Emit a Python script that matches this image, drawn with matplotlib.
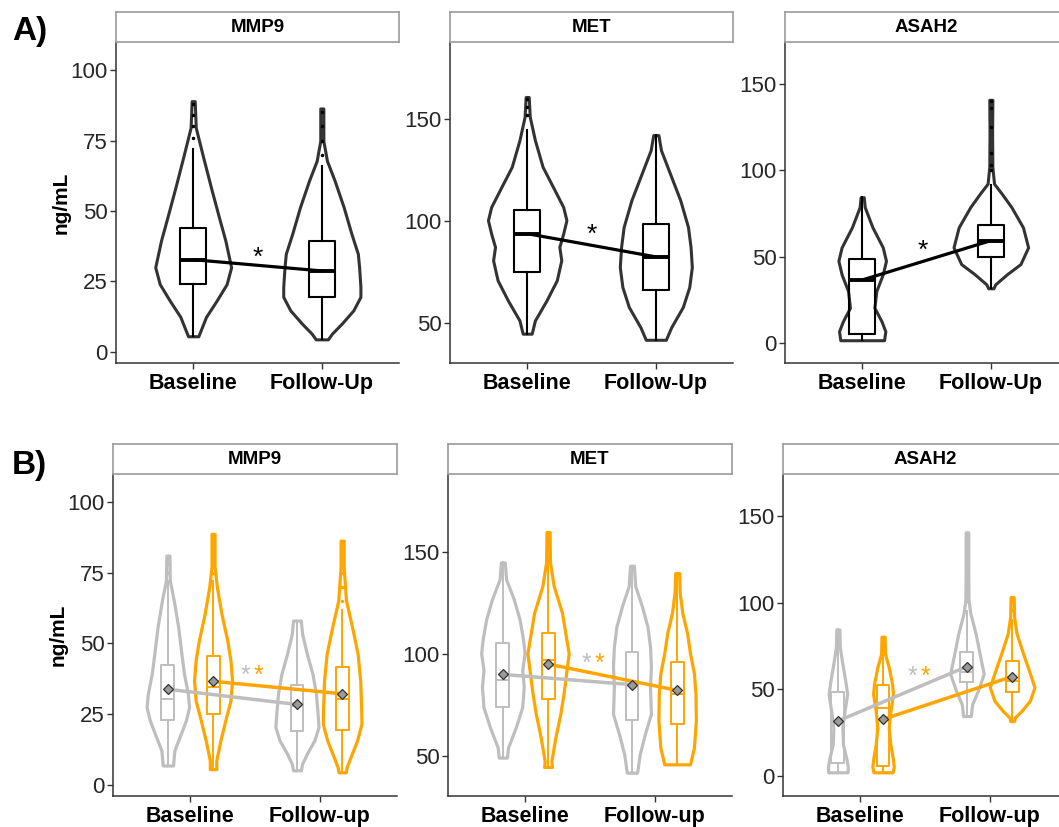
import numpy as np
import matplotlib
matplotlib.use("Agg")
import matplotlib.pyplot as plt

plt.rcParams['font.family'] = ['Liberation Sans', 'DejaVu Sans']

# ---- data ----
genes = ["MMP9", "MET", "ASAH2"]
top_xlabels = ["Baseline", "Follow-Up"]
bot_xlabels = ["Baseline", "Follow-up"]
ylims = [(-4, 110), (30.4, 188), (-11.6, 174.4)]
yticks = [[0, 25, 50, 75, 100], [50, 100, 150], [0, 50, 100, 150]]

# violin outlines: value levels and half widths (x units), panel A
a_mmp9_base_lv = [5.5, 12.4, 18, 24, 30, 39.5, 47.8, 58, 69, 79.6, 89]
a_mmp9_base_hw = [0.04, 0.10, 0.18, 0.26, 0.295, 0.25, 0.20, 0.14, 0.078, 0.02, 0.012]
a_mmp9_fol_lv = [4.4, 6.5, 10, 14.7, 19.5, 23, 30, 34.8, 41.9, 51.3, 60.7, 67.8, 74.9, 86.4]
a_mmp9_fol_hw = [0.047, 0.08, 0.155, 0.245, 0.30, 0.30, 0.29, 0.28, 0.23, 0.17, 0.10, 0.04, 0.012, 0.012]
a_met_base_lv = [44.8, 51.3, 61.1, 71, 80.8, 87.4, 93.9, 100.5, 107, 116.9, 126.7, 139.8, 151.3, 161]
a_met_base_hw = [0.035, 0.06, 0.15, 0.23, 0.265, 0.25, 0.28, 0.305, 0.28, 0.20, 0.12, 0.06, 0.02, 0.012]
a_met_fol_lv = [41.8, 48, 57.9, 67.7, 77.5, 87.4, 97.2, 110.3, 123.4, 134.9, 142.3]
a_met_fol_hw = [0.078, 0.12, 0.21, 0.26, 0.28, 0.27, 0.25, 0.19, 0.11, 0.04, 0.02]
a_asah2_base_lv = [1.6, 6.8, 12.6, 20.4, 30.1, 39.8, 47.6, 55.4, 67, 78.7, 84.5]
a_asah2_base_hw = [0.17, 0.18, 0.15, 0.095, 0.11, 0.16, 0.185, 0.16, 0.08, 0.02, 0.012]
a_asah2_fol_lv = [31.7, 34, 39.8, 45.7, 55.4, 67, 78.7, 86.5, 92.3, 102, 121.4, 140.9]
a_asah2_fol_hw = [0.02, 0.035, 0.125, 0.23, 0.29, 0.25, 0.16, 0.085, 0.025, 0.012, 0.01, 0.012]

# box stats panel A: q1, median, q3, whisker low, whisker high
a_mmp9_box = [(24.1, 32.7, 43.9, 5.5, 72.0), (19.5, 28.7, 39.5, 4.4, 66.0)]
a_met_box = [(75.1, 93.9, 105.7, 44.8, 144.8), (66.4, 82.5, 98.5, 41.8, 142.3)]
a_asah2_box = [(5.4, 36.5, 48.6, 1.6, 84.5), (49.7, 59.3, 68.4, 31.7, 91.3)]
a_mmp9_fliers = [[76, 80, 84, 88], [70, 75, 80, 85]]
a_met_fliers = [[152, 156, 160], []]
a_asah2_fliers = [[], [100, 103, 110, 125, 136, 140]]

# panel B, gray = group 1, orange = group 2
b_mmp9_g_base_lv = [6.8, 12.1, 18, 22.8, 27.5, 32.2, 39.3, 46.3, 55.8, 65.2, 72.3, 81.1]
b_mmp9_g_base_hw = [0.04, 0.05, 0.10, 0.14, 0.165, 0.155, 0.125, 0.105, 0.08, 0.046, 0.015, 0.012]
b_mmp9_o_base_lv = [5.5, 8.6, 15.7, 22.8, 29.8, 36.9, 44, 51.1, 60.5, 69.9, 77, 88.8]
b_mmp9_o_base_hw = [0.025, 0.025, 0.057, 0.095, 0.135, 0.147, 0.135, 0.11, 0.065, 0.03, 0.012, 0.012]
b_mmp9_g_fol_lv = [5.1, 7.4, 11, 15.7, 20.4, 25.1, 32.2, 39.3, 46.3, 53.4, 58.1]
b_mmp9_g_fol_hw = [0.03, 0.04, 0.077, 0.135, 0.167, 0.16, 0.147, 0.12, 0.077, 0.04, 0.03]
b_mmp9_o_fol_lv = [4.4, 6.2, 9.8, 15.7, 21.6, 27.5, 36.9, 46.3, 55.8, 65.2, 77, 86.4]
b_mmp9_o_fol_hw = [0.028, 0.035, 0.065, 0.116, 0.15, 0.147, 0.14, 0.12, 0.077, 0.03, 0.012, 0.012]

b_met_g_base_lv = [49.2, 54.1, 64, 73.9, 83.8, 92, 100.2, 106.8, 116.7, 126.6, 136.5, 144.7]
b_met_g_base_hw = [0.032, 0.04, 0.10, 0.15, 0.162, 0.15, 0.168, 0.157, 0.13, 0.085, 0.025, 0.015]
b_met_o_base_lv = [44.6, 47.5, 59.1, 70.6, 80.5, 90.4, 100.2, 110.1, 120, 133.2, 144.7, 159.6]
b_met_o_base_hw = [0.03, 0.026, 0.057, 0.095, 0.12, 0.14, 0.16, 0.134, 0.108, 0.044, 0.015, 0.012]
b_met_g_fol_lv = [41.8, 50.8, 60.7, 70.6, 83.8, 93.7, 103.5, 113.4, 123.3, 133.2, 143.1]
b_met_g_fol_hw = [0.04, 0.06, 0.10, 0.147, 0.14, 0.147, 0.14, 0.12, 0.077, 0.025, 0.015]
b_met_o_fol_lv = [45.9, 54.1, 67.3, 80.5, 90.4, 100.2, 110.1, 120, 129.9, 139.5]
b_met_o_fol_hw = [0.10, 0.13, 0.145, 0.142, 0.13, 0.10, 0.077, 0.04, 0.02, 0.015]

b_asah2_g_base_lv = [2.1, 5.4, 10.3, 18.1, 27.8, 37.5, 47.3, 55.1, 64.8, 74.5, 84.6]
b_asah2_g_base_hw = [0.075, 0.077, 0.065, 0.04, 0.035, 0.052, 0.072, 0.057, 0.035, 0.015, 0.012]
b_asah2_o_base_lv = [2.1, 5.4, 10.3, 18.1, 27.8, 37.5, 47.3, 53.1, 62.8, 70.6, 80.4]
b_asah2_o_base_hw = [0.074, 0.083, 0.075, 0.057, 0.044, 0.057, 0.077, 0.07, 0.044, 0.015, 0.012]
b_asah2_g_fol_lv = [34.6, 41.4, 49.2, 59, 70.6, 82.3, 94, 101.8, 121.2, 140.7]
b_asah2_g_fol_hw = [0.03, 0.04, 0.085, 0.13, 0.098, 0.067, 0.026, 0.012, 0.01, 0.01]
b_asah2_o_fol_lv = [31.7, 33.7, 37.5, 43.4, 51.2, 60.9, 70.6, 82.3, 92, 103.3]
b_asah2_o_fol_hw = [0.015, 0.02, 0.072, 0.137, 0.173, 0.13, 0.085, 0.034, 0.015, 0.012]

# box stats panel B: (q1, med, q3, wlo, whi) for [gray base, orange base, gray fol, orange fol]
b_mmp9_box = [(23, 30.2, 42.5, 6.8, 72), (25.1, 34.6, 45.4, 5.5, 72),
              (18.9, 28, 35.4, 5.1, 58.1), (19.2, 30.4, 41.6, 4.4, 62)]
b_met_box = [(74.2, 87.4, 105.2, 49.2, 144.7), (78, 97, 110.1, 44.6, 159.6),
             (67.6, 85, 101.1, 41.8, 143.1), (65.7, 80.2, 96.1, 45.9, 139.5)]
b_asah2_box = [(7.4, 31, 48.2, 2.1, 84.6), (6, 39.5, 52.5, 2.1, 80.4),
               (54.1, 59.9, 71.6, 34.6, 95), (48.6, 55, 66.1, 31.7, 90)]
b_mmp9_fliers = [[75, 78, 81], [75, 80, 85, 88], [], [65, 70, 75, 80, 85]]
b_met_fliers = [[], [], [], []]
b_asah2_fliers = [[], [], [101, 110, 122, 135, 140], [96, 103]]

# group means (diamonds) in panel B: [gray base, gray fol], [orange base, orange fol]
b_mmp9_means = [[33.8, 28.4], [36.6, 32.2]]
b_met_means = [[89.9, 84.9], [95.0, 82.1]]
b_asah2_means = [[31.7, 63.2], [32.7, 57.4]]

# asterisk positions (x, y)
a_star = [(1.5, 33.5), (1.5, 93.5), (1.47, 53.5)]
b_star = [(1.43, 38.5), (1.47, 95.2), (1.40, 57.2)]

a_violins = [[(a_mmp9_base_lv, a_mmp9_base_hw), (a_mmp9_fol_lv, a_mmp9_fol_hw)],
             [(a_met_base_lv, a_met_base_hw), (a_met_fol_lv, a_met_fol_hw)],
             [(a_asah2_base_lv, a_asah2_base_hw), (a_asah2_fol_lv, a_asah2_fol_hw)]]
a_boxes = [a_mmp9_box, a_met_box, a_asah2_box]
a_fliers = [a_mmp9_fliers, a_met_fliers, a_asah2_fliers]
b_violins = [[(b_mmp9_g_base_lv, b_mmp9_g_base_hw), (b_mmp9_o_base_lv, b_mmp9_o_base_hw),
              (b_mmp9_g_fol_lv, b_mmp9_g_fol_hw), (b_mmp9_o_fol_lv, b_mmp9_o_fol_hw)],
             [(b_met_g_base_lv, b_met_g_base_hw), (b_met_o_base_lv, b_met_o_base_hw),
              (b_met_g_fol_lv, b_met_g_fol_hw), (b_met_o_fol_lv, b_met_o_fol_hw)],
             [(b_asah2_g_base_lv, b_asah2_g_base_hw), (b_asah2_o_base_lv, b_asah2_o_base_hw),
              (b_asah2_g_fol_lv, b_asah2_g_fol_hw), (b_asah2_o_fol_lv, b_asah2_o_fol_hw)]]
b_boxes = [b_mmp9_box, b_met_box, b_asah2_box]
b_fliers = [b_mmp9_fliers, b_met_fliers, b_asah2_fliers]
b_means = [b_mmp9_means, b_met_means, b_asah2_means]

GRAY = "#BEBEBE"
ORANGE = "#FFA500"
DARK = "#333333"
W, H = 1059, 827


def draw_violin(ax, pos, lv, hw, color, lw):
    st = dict(coords=np.array(lv), vals=np.array(hw), mean=np.mean(lv),
              median=np.median(lv), min=min(lv), max=max(lv))
    parts = ax.violin([st], positions=[pos], widths=[2 * max(hw)], showextrema=False)
    for b in parts['bodies']:
        b.set_facecolor('white')
        b.set_edgecolor(color)
        b.set_linewidth(lw)
        b.set_alpha(1)
        b.set_zorder(2)


def draw_box(ax, pos, box, fliers, color, width, lw, medlw):
    q1, med, q3, lo, hi = box
    st = dict(q1=q1, med=med, q3=q3, whislo=lo, whishi=hi, fliers=fliers)
    ax.bxp([st], positions=[pos], widths=[width], showcaps=False, manage_ticks=False,
           boxprops=dict(color=color, linewidth=lw),
           whiskerprops=dict(color=color, linewidth=lw),
           medianprops=dict(color=color, linewidth=medlw),
           flierprops=dict(marker='o', markersize=1.5, markerfacecolor=color,
                           markeredgecolor=color),
           zorder=3)


def style_axes(ax, i, xlabels):
    ax.set_xlim(0.4, 2.6)
    ax.set_ylim(*ylims[i])
    ax.set_yticks(yticks[i])
    ax.set_xticks([1, 2])
    ax.set_xticklabels(xlabels, fontsize=15.5, fontweight='bold', color='black')
    ax.tick_params(axis='y', labelsize=16, labelcolor='#262626', length=4,
                   width=1, color=DARK, pad=2)
    ax.tick_params(axis='x', length=4, width=1, color=DARK, pad=3)
    for s in ['top', 'right']:
        ax.spines[s].set_visible(False)
    for s in ['left', 'bottom']:
        ax.spines[s].set_color(DARK)
        ax.spines[s].set_linewidth(1.1)


def add_strip(fig, left, top, width, text):
    sax = fig.add_axes([left / W, 1 - (top + 30) / H, width / W, 30 / H])
    sax.set_xticks([])
    sax.set_yticks([])
    for s in sax.spines.values():
        s.set_color('#9a9a9a')
        s.set_linewidth(1.2)
    sax.text(0.5, 0.5, text, ha='center', va='center', fontsize=13.5,
             fontweight='bold', transform=sax.transAxes)


fig = plt.figure(figsize=(W / 100, H / 100), dpi=100)

top_lefts = [116, 450, 785]
bot_lefts = [113, 448, 783]

# panel A
for i in range(3):
    left = top_lefts[i]
    ax = fig.add_axes([left / W, 1 - 363 / H, 283 / W, (363 - 42) / H])
    for j, (lv, hw) in enumerate(a_violins[i]):
        draw_violin(ax, j + 1, lv, hw, DARK, 2.2)
        draw_box(ax, j + 1, a_boxes[i][j], a_fliers[i][j], 'black', 0.2, 1.5, 2.8)
    meds = [a_boxes[i][0][1], a_boxes[i][1][1]]
    ax.plot([1, 2], meds, color='black', linewidth=2.3, zorder=4, solid_capstyle='butt')
    sx, sy = a_star[i]
    ax.text(sx, sy, "*", ha='center', va='center', fontsize=19, color='black', zorder=5)
    style_axes(ax, i, top_xlabels)
    add_strip(fig, left, 12, 283, genes[i])
    if i == 0:
        ax.set_ylabel("ng/mL", fontsize=15, fontweight='bold', labelpad=0)

# panel B
offsets = [-0.175, 0.175]
colors = [GRAY, ORANGE]
for i in range(3):
    left = bot_lefts[i]
    ax = fig.add_axes([left / W, 1 - 796 / H, 284 / W, (796 - 474) / H])
    for k, (lv, hw) in enumerate(b_violins[i]):
        g = k % 2
        pos = (k // 2) + 1 + offsets[g]
        draw_violin(ax, pos, lv, hw, colors[g], 2.3)
        draw_box(ax, pos, b_boxes[i][k], b_fliers[i][k], colors[g], 0.1, 1.4, 1.4)
    for g in range(2):
        xs = [1 + offsets[g], 2 + offsets[g]]
        ax.plot(xs, b_means[i][g], color=colors[g], linewidth=2.5, zorder=4)
        ax.plot(xs, b_means[i][g], linestyle='none', marker='D', markersize=5.5,
                markerfacecolor='#9a9a9a', markeredgecolor='#333333',
                markeredgewidth=0.9, zorder=5)
    sx, sy = b_star[i]
    ax.text(sx, sy, "*", ha='center', va='center', fontsize=18, color=GRAY, zorder=5)
    ax.text(sx + 0.1, sy, "*", ha='center', va='center', fontsize=18, color=ORANGE, zorder=5)
    style_axes(ax, i, bot_xlabels)
    add_strip(fig, left, 444, 284, genes[i])
    if i == 0:
        ax.set_ylabel("ng/mL", fontsize=15, fontweight='bold', labelpad=0)

fig.text(12 / W, 1 - 40 / H, "A)", fontsize=24, fontweight='bold', va='baseline')
fig.text(12 / W, 1 - 474 / H, "B)", fontsize=24, fontweight='bold', va='baseline')

fig.savefig("out.png", dpi=100)
